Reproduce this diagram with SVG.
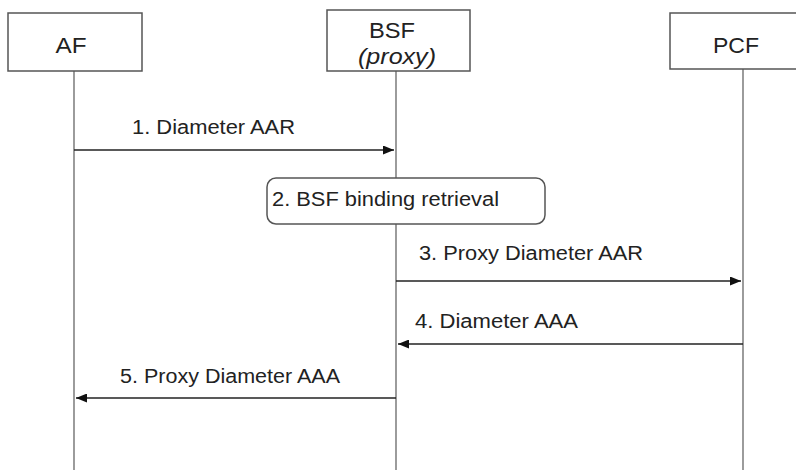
<svg xmlns="http://www.w3.org/2000/svg" width="796" height="470" viewBox="0 0 796 470">
<style>
.box{fill:#fff;stroke:#555;stroke-width:1.5}
.life{stroke:#666;stroke-width:1.3;fill:none}
.msg{stroke:#222;stroke-width:1.6;fill:none}
text{font-family:"Liberation Sans",Arial,sans-serif;fill:#222}
.t{font-size:20px}
.n{font-size:22px}
</style>
<defs>
<marker id="ah" viewBox="0 0 11 9" refX="11" refY="4.5" markerWidth="11" markerHeight="9" markerUnits="userSpaceOnUse" orient="auto">
<path d="M0,0 L11,4.5 L0,9 z" fill="#111"/>
</marker>
</defs>
<rect width="796" height="470" fill="#fff"/>
<g id="lifelines">
<line class="life" x1="74" y1="71" x2="74" y2="470"/>
<line class="life" x1="396" y1="71" x2="396" y2="470"/>
<line class="life" x1="743" y1="69" x2="743" y2="470"/>
</g>
<g id="AF">
<rect class="box" x="8" y="13" width="134" height="58"/>
<text class="n" x="71" y="53" text-anchor="middle" textLength="31" lengthAdjust="spacingAndGlyphs">AF</text>
</g>
<g id="BSF">
<rect class="box" x="327" y="10" width="143" height="61"/>
<text class="n" x="392" y="38" text-anchor="middle" textLength="46" lengthAdjust="spacingAndGlyphs">BSF</text>
<text class="n" x="397" y="64" text-anchor="middle" font-style="italic" textLength="78" lengthAdjust="spacingAndGlyphs">(proxy)</text>
</g>
<g id="PCF">
<rect class="box" x="670" y="13" width="140" height="56"/>
<text class="n" x="736" y="53" text-anchor="middle" textLength="46" lengthAdjust="spacingAndGlyphs">PCF</text>
</g>
<g id="step2">
<rect class="box" x="267" y="178" width="278" height="46" rx="9" ry="9"/>
<text class="t" x="272" y="206" textLength="227" lengthAdjust="spacingAndGlyphs">2. BSF binding retrieval</text>
</g>
<g id="connectors">
<line class="msg" x1="74" y1="150" x2="394" y2="150" marker-end="url(#ah)"/>
<line class="msg" x1="396" y1="281" x2="741" y2="281" marker-end="url(#ah)"/>
<line class="msg" x1="743" y1="344" x2="398" y2="344" marker-end="url(#ah)"/>
<line class="msg" x1="396" y1="398" x2="76" y2="398" marker-end="url(#ah)"/>
<text class="t" x="132" y="134" textLength="163" lengthAdjust="spacingAndGlyphs">1. Diameter AAR</text>
<text class="t" x="419" y="260" textLength="224" lengthAdjust="spacingAndGlyphs">3. Proxy Diameter AAR</text>
<text class="t" x="415" y="328" textLength="163" lengthAdjust="spacingAndGlyphs">4. Diameter AAA</text>
<text class="t" x="120" y="383" textLength="220" lengthAdjust="spacingAndGlyphs">5. Proxy Diameter AAA</text>
</g>
</svg>
